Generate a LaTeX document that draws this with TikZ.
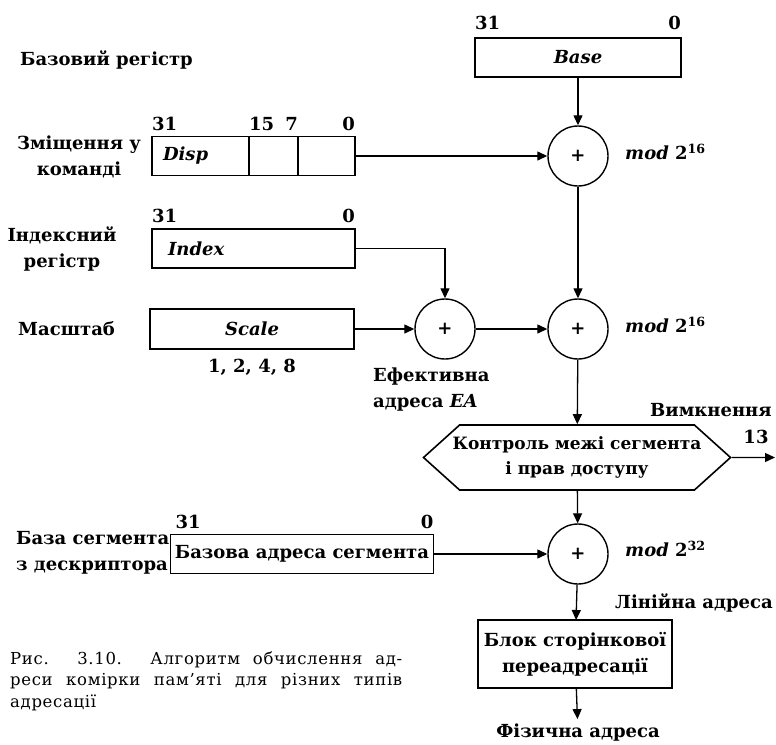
\documentclass[tikz,border=0pt]{standalone}
\usepackage{fontspec}
\setmainfont{DejaVu Serif}
\newfontfamily\capfont[LetterSpace=4]{DejaVu Serif}
\usetikzlibrary{arrows.meta, positioning, shapes.symbols}

\begin{document}
\begin{tikzpicture}[
  x=1pt, y=-1pt,
  font=\fontsize{18}{26}\selectfont\bfseries,
  reg/.style={draw, line width=1.6pt, outer sep=0pt, inner xsep=0pt, inner ysep=2pt, minimum height=39pt},
  adder/.style={circle, draw, line width=1.4pt, minimum size=60pt, inner sep=0pt, font=\fontsize{18}{18}\selectfont\bfseries},
  check/.style={signal, signal to=west and east, signal pointer angle=84, draw, line width=1.6pt,
                align=center, minimum width=307pt, minimum height=65pt, inner ysep=0pt, inner xsep=-14pt,
                font=\fontsize{17}{25}\selectfont\bfseries},
  bit/.style={inner sep=0pt},
  lbl/.style={inner sep=0pt, align=center},
  flow/.style={-{Triangle[length=10pt, width=9pt]}, line width=1.3pt},
]
  \useasboundingbox (0,0) rectangle (776,744);

  % registers
  \node[reg, minimum width=206pt] (base) at (578,57.5) {\textit{Base}};
  \node[reg, minimum width=97pt, text width=75pt, align=left, anchor=west] (disp) at (152,156) {\textit{Disp}};
  \node[reg, minimum width=49pt, right=0pt of disp] (dispm) {};
  \node[reg, minimum width=57pt, right=0pt of dispm] (displ) {};
  \node[reg, minimum width=203pt, text width=171pt, align=left] (idx) at (253.5,248.5) {\textit{Index}};
  \node[reg, minimum width=204pt, minimum height=40pt] (scl) at (252,329) {\textit{Scale}};
  \node[reg, minimum width=263pt] (seg) at (302,554) {Базова адреса сегмента};

  % bit numbers over the registers
  \node[bit, above right=8pt and 0pt of base.north west] (base31) {31};
  \node[bit, above left=8pt and 0pt of base.north east] (base0) {0};
  \node[bit, above right=6pt and 0pt of disp.north west] (disp31) {31};
  \node[bit, above right=6pt and 0pt of dispm.north west] (disp15) {15};
  \node[bit, above left=6pt and 0pt of dispm.north east] (disp7) {7};
  \node[bit, above left=6pt and 0pt of displ.north east] (disp0) {0};
  \node[bit, above right=6pt and 0pt of idx.north west] (idx31) {31};
  \node[bit, above left=6pt and 0pt of idx.north east] (idx0) {0};
  \node[bit, above right=6pt and 5pt of seg.north west] (seg31) {31};
  \node[bit, above left=6pt and 0pt of seg.north east] (seg0) {0};

  % adders and the rest of the chain
  \node[adder] (add1) at (578,156) {+};
  \node[adder] (ea) at (445,329) {+};
  \node[adder] (add2) at (578,329) {+};
  \node[check] (chk) at (577,457.5) {Контроль межі сегмента\\і прав доступу};
  \node[adder] (add3) at (578,554) {+};
  \node[reg, minimum width=194pt, minimum height=68pt, align=center] (page) at (575,654) {Блок сторінкової\\переадресації};
  \node[lbl, inner ysep=5pt] (phys) at (578,733) {Фізична адреса};
  \coordinate (off) at (775,457.5);

  % labels
  \node[lbl, anchor=west] (lbase) at (20,60) {Базовий регістр};
  \node[lbl] (ldisp) at (79,157) {Зміщення у\\команді};
  \node[lbl] (lidx) at (62,249) {Індексний\\регістр};
  \node[lbl, anchor=west] (lscl) at (18,329) {Масштаб};
  \node[lbl, below=10pt of scl] (lfac) {1, 2, 4, 8};
  \node[lbl, align=left, anchor=north west] (lea) at (373,368) {Ефективна\\адреса \textit{EA}};
  \node[lbl, anchor=west] (mod1) at (625,152) {\textit{mod} 2\textsuperscript{16}};
  \node[lbl, anchor=west] (mod2) at (625,325) {\textit{mod} 2\textsuperscript{16}};
  \node[lbl, anchor=west] (mod3) at (625,549) {\textit{mod} 2\textsuperscript{32}};
  \node[lbl, anchor=west] (loff) at (650,410) {Вимкнення};
  \node[lbl] (lnum) at (756,437) {13};
  \node[lbl, anchor=west] (llin) at (615,603) {Лінійна адреса};
  \node[lbl, align=left, anchor=west] (lseg) at (16,553) {База сегмента\\з дескриптора};
  \node[anchor=north west, inner sep=0pt, align=left, font=\capfont\fontsize{16.5}{21.5}\selectfont] (cap) at (10,651)
    {\makebox[392pt][s]{Рис. 3.10. Алгоритм обчислення ад-}\\\makebox[392pt][s]{реси комірки пам’яті для різних типів}\\адресації};

  % connectors
  \draw[flow] (base) -- (add1);
  \draw[flow] (displ) -- (add1);
  \draw[flow] (add1) -- (add2);
  \draw[flow] (idx) -| (ea);
  \draw[flow] (scl) -- (ea);
  \draw[flow] (ea) -- (add2);
  \draw[flow] (add2) -- (chk);
  \draw[flow] (chk) -- (off);
  \draw[flow] (chk) -- (add3);
  \draw[flow] (seg) -- (add3);
  \draw[flow] (add3) -- (page);
  \draw[flow] (page) -- (phys);
\end{tikzpicture}
\end{document}
